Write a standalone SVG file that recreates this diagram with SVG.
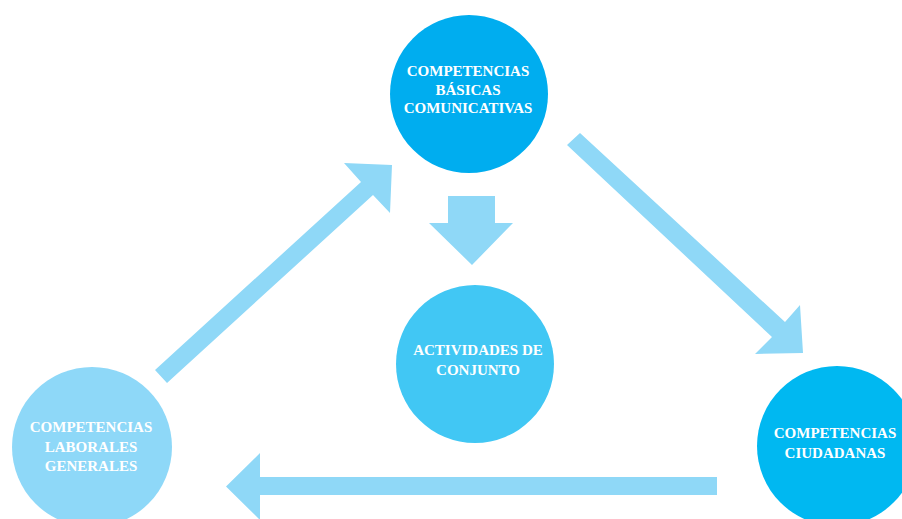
<svg xmlns="http://www.w3.org/2000/svg" width="902" height="519" viewBox="0 0 902 519">
<style>
.arrow{fill:#8fd8f7}
.lbl{font-family:"Liberation Serif","Times New Roman",serif;font-weight:bold;font-size:15px;fill:#ffffff;text-anchor:middle}
</style>
<rect width="902" height="519" fill="#ffffff"/>
<g id="connectors">
<polygon class="arrow" points="155,370 361,182 344,163 392,165 390,213 373,195 167,383"/>
<polygon class="arrow" points="580,133 785,322 800,305 803,353 755,354 772,337 567,145"/>
<polygon class="arrow" points="717,477 260,477 260,453 226,486.5 260,520 260,495 717,495"/>
<polygon class="arrow" points="448,196 495,196 495,223 513,223 472,265 429,223 448,223"/>
</g>
<g id="node-basicas">
<circle cx="469" cy="94" r="79" fill="#00adef"/>
<text class="lbl" x="468" y="76">COMPETENCIAS</text>
<text class="lbl" x="468" y="95">BÁSICAS</text>
<text class="lbl" x="468" y="113">COMUNICATIVAS</text>
</g>
<g id="node-actividades">
<circle cx="475" cy="364" r="79" fill="#41c7f4"/>
<text class="lbl" x="478" y="355">ACTIVIDADES DE</text>
<text class="lbl" x="478" y="375">CONJUNTO</text>
</g>
<g id="node-laborales">
<circle cx="92" cy="447" r="80" fill="#8ed8f8"/>
<text class="lbl" x="91" y="432">COMPETENCIAS</text>
<text class="lbl" x="91" y="452">LABORALES</text>
<text class="lbl" x="91" y="471">GENERALES</text>
</g>
<g id="node-ciudadanas">
<circle cx="837" cy="446" r="80" fill="#00b8f1"/>
<text class="lbl" x="835" y="438">COMPETENCIAS</text>
<text class="lbl" x="835" y="458">CIUDADANAS</text>
</g>
</svg>
